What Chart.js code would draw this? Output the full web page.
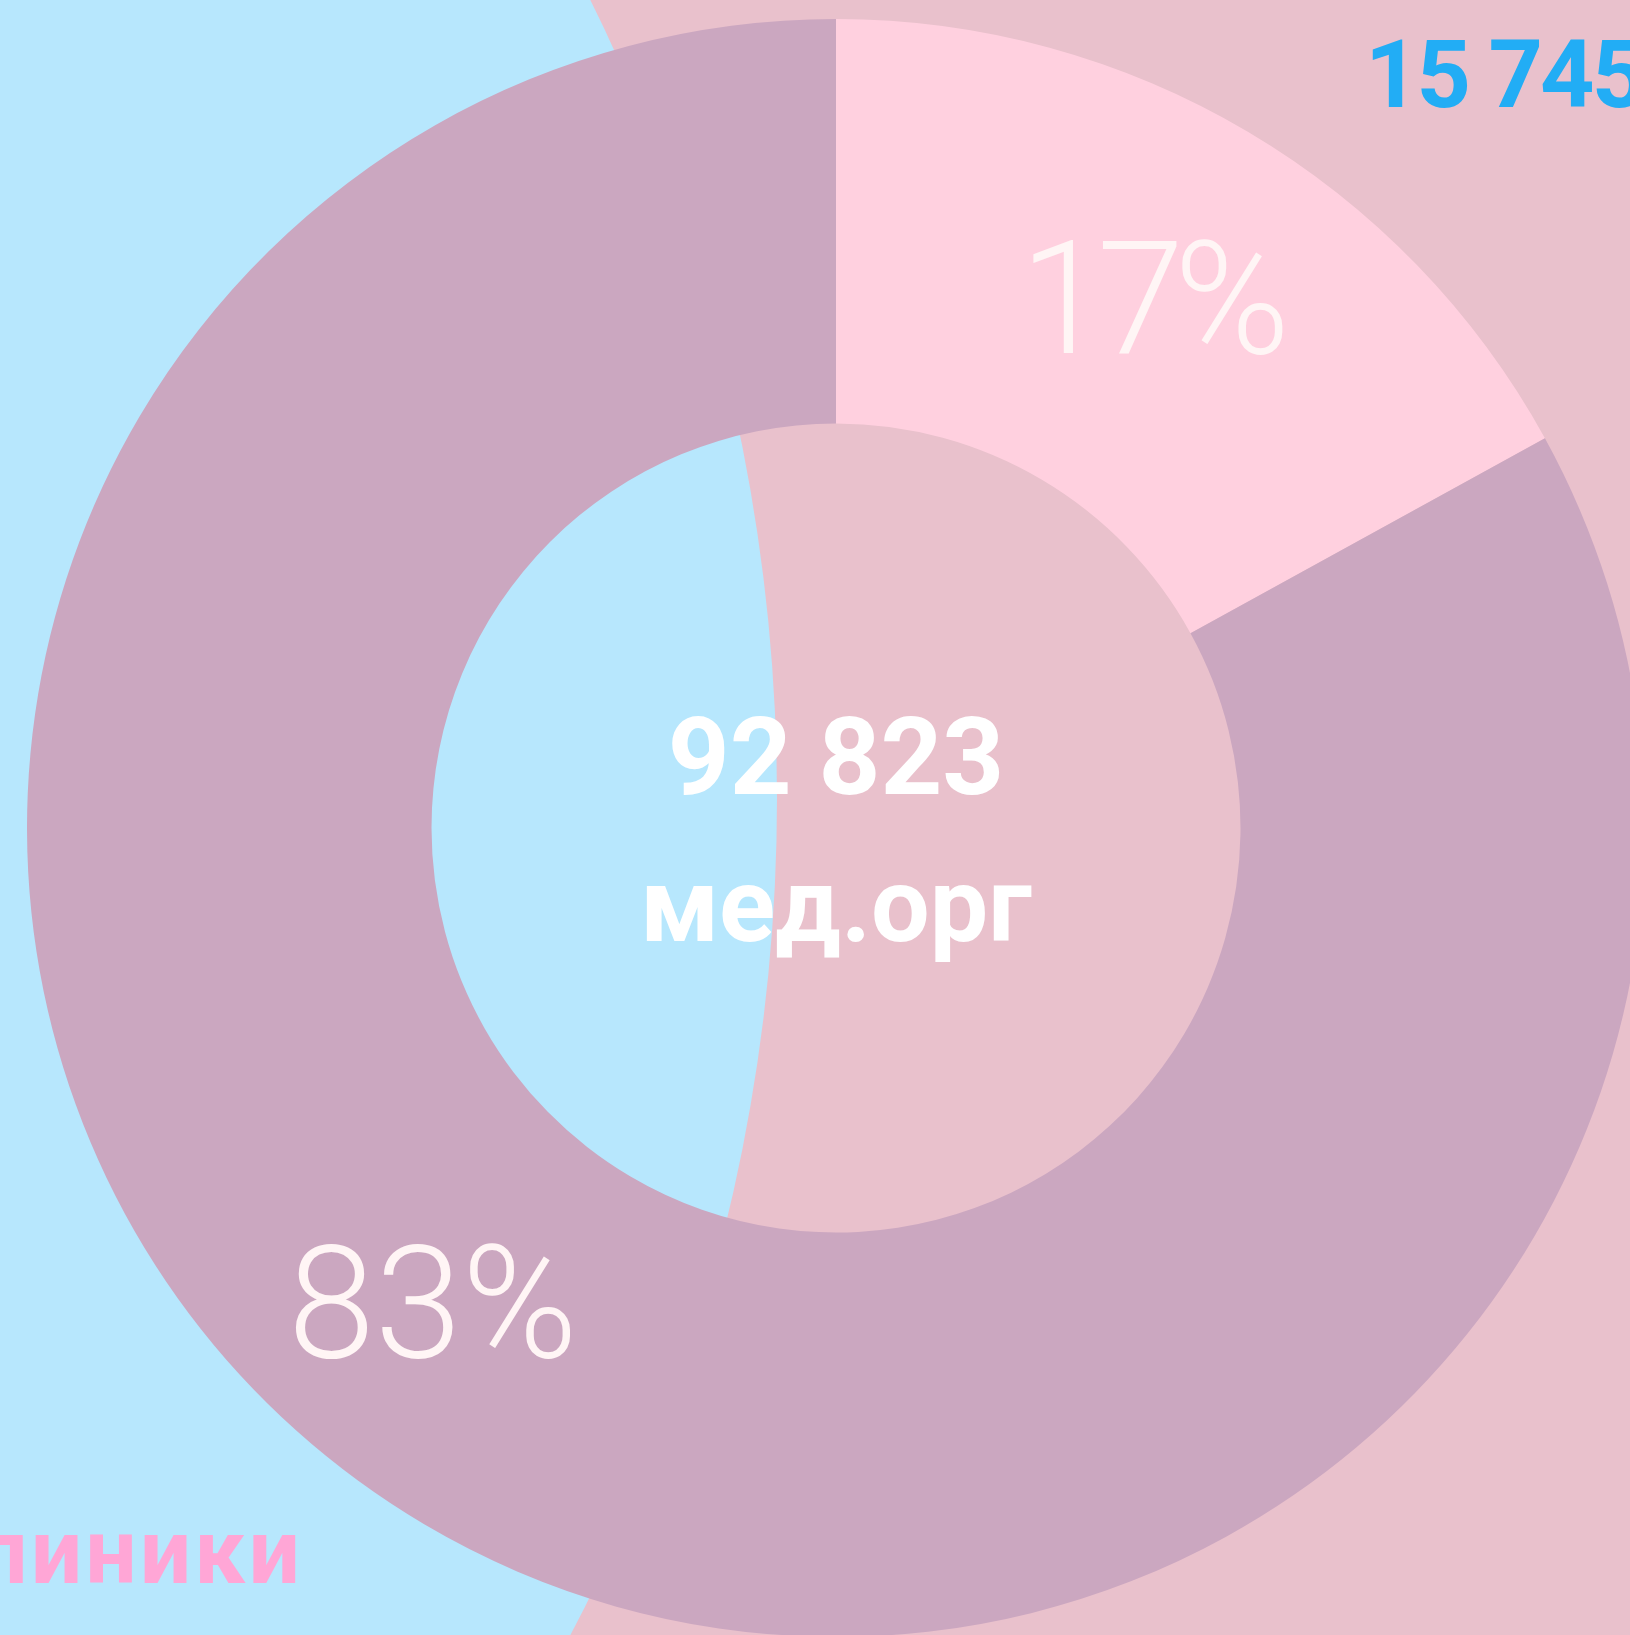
<!DOCTYPE html>
<html>
<head>
<meta charset="utf-8">
<script src="https://cdn.jsdelivr.net/npm/chart.js@4"></script>
<style>
  html, body { margin: 0; padding: 0; width: 1630px; height: 1635px; overflow: hidden; background: #e9c1cc; position: relative; }
  #circulo { position: absolute; left: -2823px; top: -1002px; }
  #anillo { position: absolute; left: 27px; top: 19px; }
</style>
</head>
<body>
<canvas id="circulo" width="3600" height="3600"></canvas>
<canvas id="anillo" width="1618" height="1618"></canvas>
<script>
// Datos del gráfico
const shareLabels = ['17%', '83%'];
const shareValues = [17, 83];
const totalValue = '92 823';
const totalUnit = 'мед.орг';

// Círculo grande del fondo (клиники) y el número de la otra parte
const outerLabels = ['клиники'];
const outerValues = [15745];
const outerNumber = '15 745';

// Posicion de cada canvas en la pagina
const CIRC_LEFT = -2823;
const CIRC_TOP = -1002;
const ANILLO_LEFT = 27;
const ANILLO_TOP = 19;

//Texto "клиники" sobre el circulo azul
const textoCirculo = {
    id: 'textoCirculo',
    afterDraw(chart) {
        const ctx = chart.ctx;
        ctx.save();
        ctx.translate(-CIRC_LEFT, -CIRC_TOP);
        ctx.textBaseline = 'alphabetic';
        ctx.font = 'bold 91px Roboto';
        ctx.fillStyle = '#ffa6d6';
        ctx.textAlign = 'right';
        ctx.letterSpacing = '3px';
        ctx.fillText(outerLabels[0], 303, 1583);
        ctx.restore();
    }
};

new Chart(document.getElementById('circulo').getContext('2d'), {
    type: 'pie',
    data: {
        labels: outerLabels,
        datasets: [{
            data: outerValues,
            backgroundColor: '#b7e7fd',
            borderWidth: 0
        }]
    },
    options: {
        responsive: false,
        animation: false,
        layout: { padding: 0 },
        plugins: { legend: { display: false }, tooltip: { enabled: false } }
    },
    plugins: [textoCirculo]
});

// Textos del anillo, del centro y el numero de arriba
const textosAnillo = {
    id: 'textosAnillo',
    afterDraw(chart) {
        const ctx = chart.ctx;
        const arcs = chart.getDatasetMeta(0).data;
        const posiciones = [0.51, 0.533];
        const espaciado = ['-10px', '0px'];
        const desplazX = [-8, 0];
        ctx.save();
        ctx.fillStyle = '#fff5f5';
        ctx.textAlign = 'center';
        ctx.textBaseline = 'alphabetic';
        ctx.font = '300 157px Roboto';
        arcs.forEach((arc, i) => {
            const a = arc.startAngle + (arc.endAngle - arc.startAngle) * posiciones[i];
            const r = arc.outerRadius * 0.768;
            const x = arc.x + Math.cos(a) * r;
            const y = arc.y + Math.sin(a) * r;
            ctx.letterSpacing = espaciado[i];
            ctx.fillText(shareLabels[i], x + desplazX[i], y + 56);
        });
        ctx.letterSpacing = '0px';
        const cx = arcs[0].x;
        const cy = arcs[0].y;
        ctx.fillStyle = '#ffffff';
        ctx.font = 'bold 108px Roboto';
        ctx.fillText(totalValue, cx, cy - 34);
        ctx.font = 'bold 104px Roboto';
        ctx.fillText(totalUnit, cx, cy + 113);

        // numero azul arriba a la derecha (coordenadas de pagina)
        ctx.translate(-ANILLO_LEFT, -ANILLO_TOP);
        ctx.font = 'bold 95px Roboto';
        ctx.fillStyle = '#22adf5';
        ctx.textAlign = 'left';
        ctx.letterSpacing = '-3px';
        ctx.fillText(outerNumber, 1365, 107);
        ctx.restore();
    }
};

new Chart(document.getElementById('anillo').getContext('2d'), {
    type: 'doughnut',
    data: {
        labels: shareLabels,
        datasets: [{
            data: shareValues,
            backgroundColor: ['#ffd0df', '#cba7c0'],
            borderWidth: 0
        }]
    },
    options: {
        responsive: false,
        animation: false,
        cutout: '50%',
        layout: { padding: 0 },
        plugins: { legend: { display: false }, tooltip: { enabled: false } }
    },
    plugins: [textosAnillo]
});
</script>
</body>
</html>
